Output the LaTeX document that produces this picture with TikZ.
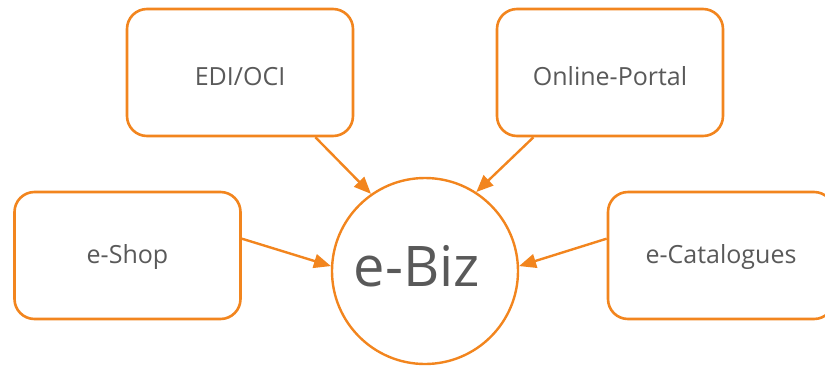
\documentclass[tikz,border=0pt]{standalone}
\usepackage{fontspec}
\setmainfont{Open Sans}
\usetikzlibrary{arrows.meta,calc}
\definecolor{orng}{RGB}{242,133,30}
\definecolor{txt}{RGB}{89,89,89}
\begin{document}
\begin{tikzpicture}[x=1pt,y=-1pt,
  box/.style={draw=orng,line width=2.6pt,rounded corners=20pt,minimum width=226pt,minimum height=127pt,fill=white,text=txt,font=\fontsize{25}{30}\selectfont,inner sep=0pt},
  toprow/.style={text height=25pt,text depth=0pt},
  botrow/.style={text height=18pt,text depth=2.4pt},
  hub/.style={draw=orng,line width=2.4pt,circle,minimum size=186pt,inner sep=0pt,text=txt,font=\fontsize{56}{64}\selectfont,text height=30pt,text depth=0pt},
  arr/.style={draw=orng,line width=2.4pt,-{Triangle[length=17pt,width=14pt]}}]
\useasboundingbox (0,0) rectangle (825,365);
\node[box,toprow] (edi) at (240,72.5) {EDI/OCI};
\node[box,toprow] (portal) at (610,72.5) {Online-Portal};
\node[box,botrow] (eshop) at (127.5,255.5) {e-Shop};
\node[box,botrow] (ecat) at (721,255.5) {e-Catalogues};
\node[hub] (ebiz) at (425,271) {e-Biz\kern16pt\relax};
\draw[arr] ($(edi.south west)!0.83!(edi.south east)$) -- (ebiz.125);
\draw[arr] ($(portal.south west)!0.165!(portal.south east)$) -- (ebiz.57);
\draw[arr] ($(eshop.north east)!0.37!(eshop.south east)$) -- (ebiz.177);
\draw[arr] ($(ecat.north west)!0.37!(ecat.south west)$) -- (ebiz.3);
\end{tikzpicture}
\end{document}
